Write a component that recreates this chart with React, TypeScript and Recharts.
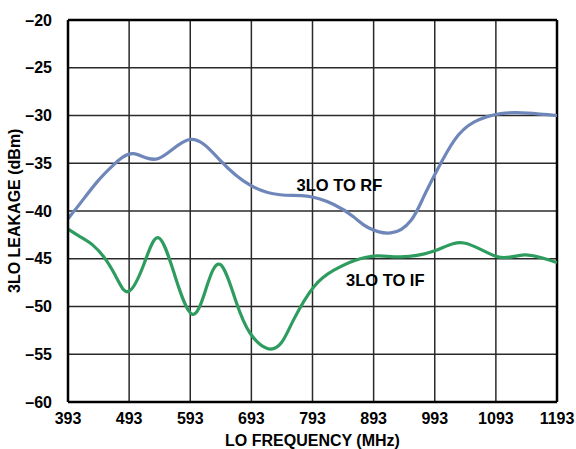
import React from "react";
import {
  LineChart,
  Line,
  XAxis,
  YAxis,
  CartesianGrid,
  ReferenceLine,
  ReferenceDot,
} from "recharts";

const xTicks = [393, 493, 593, 693, 793, 893, 993, 1093, 1193];
const yTicks = [-60, -55, -50, -45, -40, -35, -30, -25, -20];

const rfFreq = [393, 413, 440, 467, 500, 541, 593, 642, 691, 740, 784, 827, 860, 883, 921, 954, 975, 997, 1025, 1057, 1101, 1145, 1193];
const rfLeak = [-40.8, -39.2, -37.0, -35.2, -34.0, -34.5, -32.5, -34.7, -37.3, -38.3, -38.45, -39.3, -40.6, -41.7, -42.3, -41.0, -38.5, -35.7, -32.6, -30.7, -29.8, -29.75, -30.0];

const ifFreq = [393, 413, 434, 456, 475, 493, 517, 541, 568, 596, 619, 642, 668, 691, 719, 742, 762, 795, 828, 861, 899, 937, 992, 1041, 1096, 1140, 1193];
const ifLeak = [-41.9, -42.7, -43.6, -45.2, -47.3, -48.4, -45.6, -42.8, -46.8, -50.8, -48.1, -45.6, -49.5, -52.8, -54.4, -53.8, -51.4, -47.95, -46.2, -45.2, -44.7, -44.8, -44.2, -43.35, -44.8, -44.6, -45.4];

const rfData = rfFreq.map((f, i) => ({ f, v: rfLeak[i] }));
const ifData = ifFreq.map((f, i) => ({ f, v: ifLeak[i] }));

const font = "'Liberation Sans', Arial, Helvetica, sans-serif";
const fmt = (v: number) => (v < 0 ? "\u2013" + Math.abs(v) : String(v));

export default function App() {
  return (
    <div style={{ position: "absolute", left: 0, top: 0, width: 576, height: 449, background: "#fff", overflow: "hidden" }}>
      <LineChart
        width={576}
        height={449}
        margin={{ top: 20, right: 19, left: 0, bottom: 0 }}
        style={{ fontFamily: font }}
      >
        <CartesianGrid stroke="#2a2a2a" strokeWidth={1.5} />
        <XAxis
          type="number"
          dataKey="f"
          domain={[393, 1193]}
          ticks={xTicks}
          allowDataOverflow
          height={47}
          tickLine={false}
          axisLine={{ stroke: "#000", strokeWidth: 2.5 }}
          tick={{ fill: "#000", fontSize: 16, fontWeight: 700, fontFamily: font }}
          tickMargin={5}
          label={{ value: "LO FREQUENCY (MHz)", position: "insideBottom", offset: 3, fill: "#000", fontSize: 16, fontWeight: 700, fontFamily: font }}
        />
        <YAxis
          type="number"
          domain={[-60, -20]}
          ticks={yTicks}
          allowDataOverflow
          width={68}
          tickLine={false}
          axisLine={{ stroke: "#000", strokeWidth: 2.5 }}
          tick={{ fill: "#000", fontSize: 16, fontWeight: 700, fontFamily: font }}
          tickMargin={10}
          tickFormatter={fmt}
          label={{ value: "3LO LEAKAGE (dBm)", angle: -90, position: "insideLeft", offset: 14, dy: 82, fill: "#000", fontSize: 16, fontWeight: 700, fontFamily: font }}
        />
        <ReferenceLine y={-20} stroke="#000" strokeWidth={2.5} />
        <ReferenceLine x={1193} stroke="#000" strokeWidth={2.5} />
        <Line
          data={rfData}
          dataKey="v"
          type="natural"
          stroke="#6e86b9"
          strokeWidth={3.2}
          dot={false}
          isAnimationActive={false}
        />
        <Line
          data={ifData}
          dataKey="v"
          type="natural"
          stroke="#2e9c5f"
          strokeWidth={3.2}
          dot={false}
          isAnimationActive={false}
        />
        <ReferenceDot
          x={837}
          y={-37.3}
          r={0}
          fill="none"
          stroke="none"
          label={{ value: "3LO TO RF", position: "center", fill: "#000", fontSize: 16.5, fontWeight: 700, fontFamily: font }}
        />
        <ReferenceDot
          x={912}
          y={-47.25}
          r={0}
          fill="none"
          stroke="none"
          label={{ value: "3LO TO IF", position: "center", fill: "#000", fontSize: 16.5, fontWeight: 700, fontFamily: font }}
        />
      </LineChart>
    </div>
  );
}
